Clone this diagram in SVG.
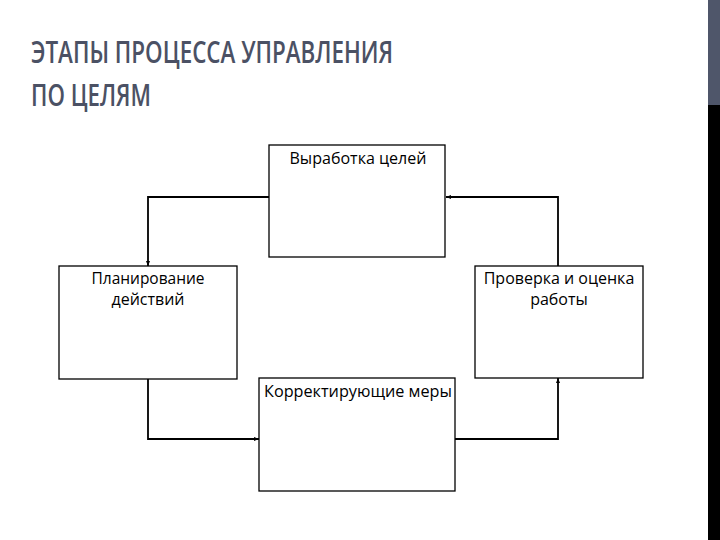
<svg xmlns="http://www.w3.org/2000/svg" width="720" height="540" viewBox="0 0 720 540">
<defs>
<style>
.title{font-family:"Open Sans","Liberation Sans",sans-serif;font-weight:600;font-size:30px;fill:#4b5164}
.box{fill:#fff;stroke:#000;stroke-width:1.3}
.lbl{font-family:"Open Sans","Liberation Sans",sans-serif;font-size:16px;font-weight:500;fill:#000;text-anchor:middle}
.con{fill:none;stroke:#000;stroke-width:1.8}
</style>
<marker id="arr" viewBox="0 0 10 10" refX="10" refY="5" markerWidth="5" markerHeight="5" orient="auto" markerUnits="userSpaceOnUse">
<path d="M0,1 L10,5 L0,9 Z" fill="#000"/>
</marker>
</defs>
<rect x="0" y="0" width="720" height="540" fill="#fff"/>
<rect x="708" y="0" width="12" height="105" fill="#4f566a"/>
<rect x="708" y="105" width="12" height="435" fill="#000"/>
<g id="title">
<text class="title" x="31" y="63" textLength="362" lengthAdjust="spacingAndGlyphs">ЭТАПЫ ПРОЦЕССА УПРАВЛЕНИЯ</text>
<text class="title" x="31" y="106" textLength="120" lengthAdjust="spacingAndGlyphs">ПО ЦЕЛЯМ</text>
</g>
<g id="connectors">
<path class="con" d="M269,197 H148 V266" marker-end="url(#arr)"/>
<path class="con" d="M558,266 V197 H446" marker-end="url(#arr)"/>
<path class="con" d="M148,379 V439 H259" marker-end="url(#arr)"/>
<path class="con" d="M455,439 H558 V378" marker-end="url(#arr)"/>
</g>
<g id="node-goals">
<rect class="box" x="269" y="145" width="176" height="112"/>
<text class="lbl" x="358" y="164" textLength="137" lengthAdjust="spacingAndGlyphs">Выработка целей</text>
</g>
<g id="node-planning">
<rect class="box" x="59" y="266" width="178" height="113"/>
<text class="lbl" x="148" y="284" textLength="113" lengthAdjust="spacingAndGlyphs">Планирование</text>
<text class="lbl" x="148" y="305">действий</text>
</g>
<g id="node-check">
<rect class="box" x="475" y="266" width="168" height="112"/>
<text class="lbl" x="559" y="284">Проверка и оценка</text>
<text class="lbl" x="559" y="305">работы</text>
</g>
<g id="node-correct">
<rect class="box" x="259" y="378" width="196" height="113"/>
<text class="lbl" x="358" y="397" textLength="188" lengthAdjust="spacingAndGlyphs">Корректирующие меры</text>
</g>
</svg>
